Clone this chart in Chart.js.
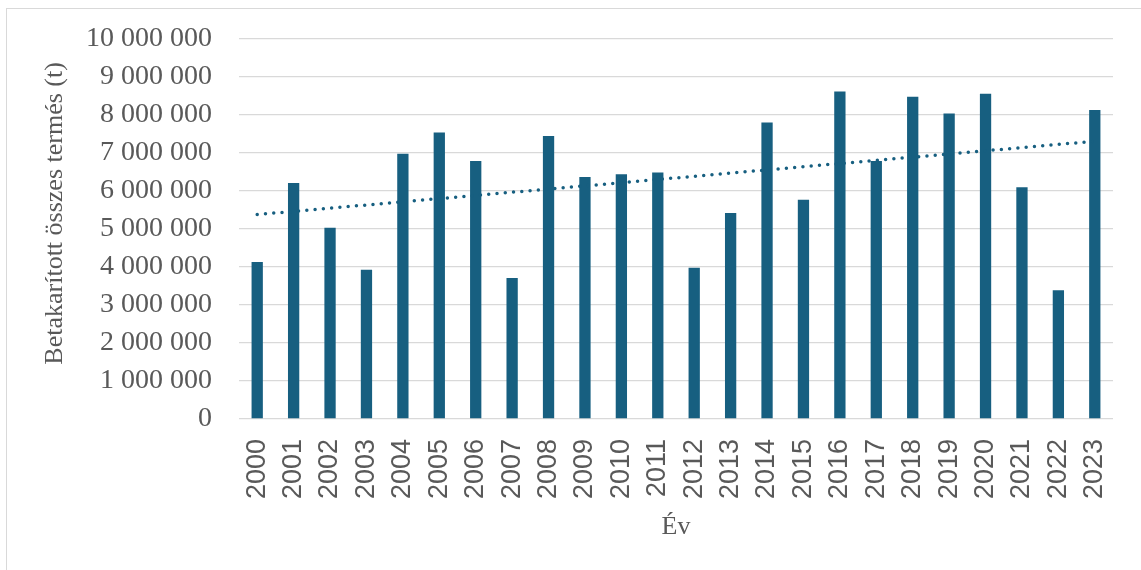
<!DOCTYPE html>
<html>
<head>
<meta charset="utf-8">
<script src="https://cdn.jsdelivr.net/npm/chart.js@4"></script>
<style>
    html, body { margin: 0; padding: 0; background: #fff; overflow: hidden; }
    #wrap { position: relative; width: 1141px; height: 570px; }
    /* light frame around the chart (only left and top edges show) */
    #frame { position: absolute; left: 6px; top: 8px; width: 2000px; height: 2000px;
             border: 1px solid #d9d9d9; box-sizing: border-box; }
    canvas { position: absolute; left: 0; top: 0; }
</style>
</head>
<body>
<div id="wrap">
    <div id="frame"></div>
    <canvas id="myChart" width="1141" height="570"></canvas>
</div>
<script>
// data
var years = ['2000', '2001', '2002', '2003', '2004', '2005', '2006', '2007', '2008', '2009', '2010', '2011',
             '2012', '2013', '2014', '2015', '2016', '2017', '2018', '2019', '2020', '2021', '2022', '2023'];
var harvest = [4130000, 6210000, 5030000, 3930000, 6980000, 7540000, 6790000, 3710000, 7450000, 6370000, 6440000, 6490000,
               3980000, 5420000, 7800000, 5770000, 8620000, 6790000, 8480000, 8040000, 8560000, 6100000, 3390000, 8130000];
// linear trend line, value at first and last year
var trendEnds = [5380000, 7310000];
var yTicks = [0, 1000000, 2000000, 3000000, 4000000, 5000000, 6000000, 7000000, 8000000, 9000000, 10000000];

var barColor = '#175f80';
var textColor = '#595959';
var gridColor = '#d9d9d9';
var serif = "'Liberation Serif', 'Times New Roman', serif";
var sans = "'Liberation Sans', Arial, sans-serif";

// trend only has its two ends, the line spans the gaps between them
var trendData = years.map(function (y, i) {
    if (i === 0) return trendEnds[0];
    if (i === years.length - 1) return trendEnds[1];
    return null;
});

function spaced(v) {
    return v.toString().replace(/\B(?=(\d{3})+(?!\d))/g, ' ');
}

var ctx = document.getElementById('myChart').getContext('2d');
var chart = new Chart(ctx, {
    type: 'bar',
    data: {
        labels: years,
        datasets: [{
            type: 'line',
            label: 'Trend',
            data: trendData,
            spanGaps: true,
            borderColor: barColor,
            borderWidth: 3.5,
            borderDash: [0, 8.3],
            borderCapStyle: 'round',
            pointRadius: 0,
            fill: false,
            order: 0
        }, {
            label: 'Betakarított összes termés (t)',
            data: harvest,
            backgroundColor: barColor,
            categoryPercentage: 1,
            barPercentage: 0.31,
            order: 1
        }]
    },
    options: {
        responsive: false,
        animation: false,
        layout: { padding: { left: 0, top: 39, right: 28, bottom: 0 } },
        plugins: {
            legend: { display: false },
            tooltip: { enabled: false }
        },
        scales: {
            x: {
                grid: { display: false, drawTicks: false },
                border: { display: false },
                ticks: {
                    color: textColor,
                    font: { family: sans, size: 27 },
                    minRotation: 90,
                    maxRotation: 90,
                    padding: 20,
                    autoSkip: false
                },
                title: {
                    display: true,
                    text: 'Év',
                    color: textColor,
                    font: { family: serif, size: 26 },
                    padding: { top: 0, bottom: 27 }
                },
                afterFit: function (s) {
                    s.height = 151;
                    // rotated labels should not pull the plot in from the sides
                    s.paddingLeft = 0;
                    s.paddingRight = 0;
                }
            },
            y: {
                min: 0,
                max: 10000000,
                afterBuildTicks: function (s) {
                    s.ticks = yTicks.map(function (v) { return { value: v }; });
                },
                grid: { color: gridColor, lineWidth: 1.3, drawTicks: false },
                border: { display: false },
                ticks: {
                    color: textColor,
                    font: { family: serif, size: 28 },
                    padding: 27,
                    callback: function (v) { return spaced(v); }
                },
                title: {
                    display: true,
                    // leading space nudges the title up a little, as in the original
                    text: '\u2003\u2009Betakarított összes termés (t)',
                    color: textColor,
                    font: { family: serif, size: 26 },
                    padding: { top: 40, bottom: 0 }
                },
                afterFit: function (s) {
                    s.width = 239;
                    s.paddingTop = 0;
                    s.paddingBottom = 0;
                }
            }
        }
    }
});
</script>
</body>
</html>
